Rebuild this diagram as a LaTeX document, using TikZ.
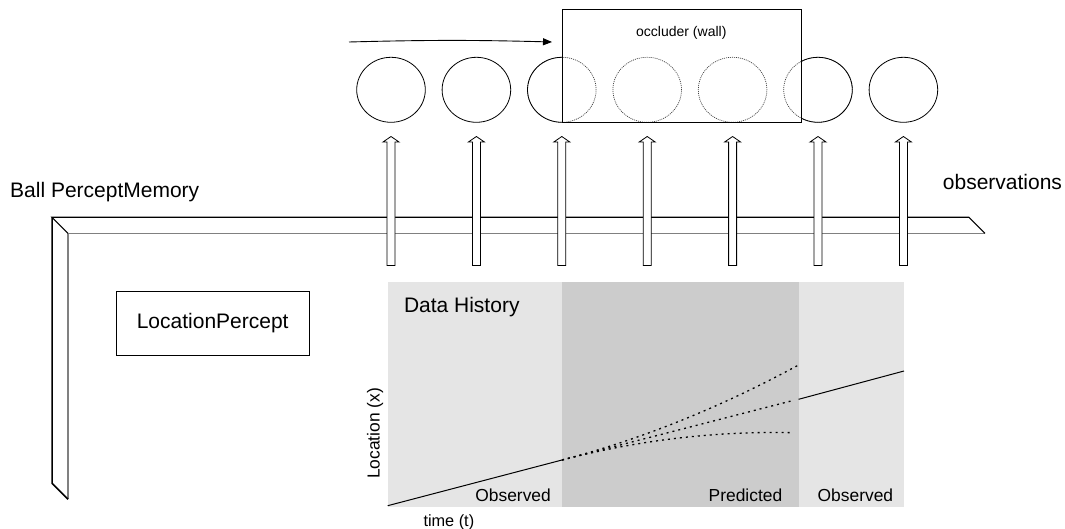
\documentclass[tikz,border=0pt]{standalone}
\usepackage{fontspec}
\setmainfont{Liberation Sans}
\usetikzlibrary{arrows.meta,shapes.geometric}

\definecolor{lightpanel}{HTML}{E5E5E5}
\definecolor{darkpanel}{HTML}{CCCCCC}
\definecolor{innerline}{HTML}{808080}

\tikzset{
  biglbl/.style={inner sep=0pt, anchor=base west, font=\fontsize{21}{25}\selectfont},
  midlbl/.style={inner sep=0pt, anchor=base west, font=\fontsize{17.4}{20}\selectfont},
  smalllbl/.style={inner sep=0pt, anchor=base west, font=\fontsize{14}{17}\selectfont},
  ball/.style={draw, ellipse, minimum width=68.6pt, minimum height=65pt, inner sep=0pt, line width=0.8pt},
  hiddenball/.style={ball, draw=black!75, dash pattern=on 1pt off 1pt, line width=0.7pt},
  blockarrow/.style={fill=white, draw, line width=0.8pt, line join=miter},
  predline/.style={dash pattern=on 2pt off 4pt, line width=1.3pt},
}

\begin{document}
\begin{tikzpicture}[x=1pt,y=-1pt]
\useasboundingbox (0,0) rectangle (1065,529);

% --- percept memory bar (L-shaped frame) ---
\fill[white] (52,217.3) -- (969,217.3) -- (985,233.3) -- (68,233.3) -- (68,499.3) -- (52,483.3) -- cycle;
\draw[innerline, line width=1.2pt] (68,499.3) -- (68,233.3) -- (985,233.3);
\draw[line width=1.1pt] (68,233.3) -- (52,217.3) -- (969,217.3) -- (985,233.3);
\draw[line width=1.5pt] (52,217.3) -- (52,483.3) -- (68,499.3);

\node[biglbl] (memlbl) at (10,197.3) {Ball PerceptMemory};
\node[biglbl] (obslbl) at (942.7,189.3) {observations};

% --- ball positions ---
\foreach \i/\x in {1/391,2/476.4,3/561.8,4/647.2,5/732.6,6/818,7/903.4}
  \coordinate (c\i) at (\x,89.8);

% --- observation arrows rising through the bar ---
\foreach \i in {1,...,7}{
  \draw[blockarrow] ([shift={(-4,265.5-89.8)}]c\i) -- ([shift={(-4,142-89.8)}]c\i)
     -- ([shift={(-8,142-89.8)}]c\i) -- ([shift={(0,136.5-89.8)}]c\i)
     -- ([shift={(8,142-89.8)}]c\i) -- ([shift={(4,142-89.8)}]c\i)
     -- ([shift={(4,265.5-89.8)}]c\i) -- cycle;
}

% --- balls: visible ones solid, occluded ones dotted ---
\node[ball] (b1) at (c1) {};
\node[ball] (b2) at (c2) {};
\node[ball] (b7) at (c7) {};
\node[hiddenball] (b3) at (c3) {};
\node[hiddenball] (b4) at (c4) {};
\node[hiddenball] (b5) at (c5) {};
\node[hiddenball] (b6) at (c6) {};
\begin{scope}
  \clip (300,0) rectangle (562.3,140);
  \draw[line width=0.8pt] (c3) ellipse [x radius=34.3pt, y radius=32.5pt];
\end{scope}
\begin{scope}
  \clip (801.7,0) rectangle (1000,140);
  \draw[line width=0.8pt] (c6) ellipse [x radius=34.3pt, y radius=32.5pt];
\end{scope}

% --- occluder ---
\coordinate (wallnw) at (562.3,9.3);
\coordinate (wallse) at (801.7,122.3);
\draw[line width=1pt] (wallnw) rectangle (wallse);
\node[smalllbl] (walllbl) at (636,36.7) {occluder (wall)};

% --- motion direction ---
\coordinate (mstart) at (349,42);
\coordinate (mend) at (552,42);
\draw[line width=0.9pt, -{Triangle[length=9pt,width=7pt]}] (mstart) to[bend left=1.5] (mend);

% --- location percept ---
\node[draw, line width=0.9pt, minimum width=193.3pt, minimum height=64pt, inner sep=0pt,
      font=\fontsize{21}{25}\selectfont] (lp) at (212.7,323) {LocationPercept};

% --- data history plot ---
\fill[lightpanel] (387.7,282.3) rectangle (904,506.7);
\fill[darkpanel] (562,282.3) rectangle (799,506.7);
\node[biglbl] (dh) at (403.8,312.7) {Data History};

\coordinate (p0) at (387.7,505.7);
\coordinate (p1) at (562,460);
\coordinate (q0) at (798.6,399.3);
\coordinate (q1) at (904,371);
\coordinate (up) at (798.6,365);
\coordinate (mid) at (793,400.5);
\coordinate (low) at (793,432.7);
\draw[line width=1pt] (p0) -- (p1);
\draw[predline] (p1) .. controls (640.7,439.5) and (719.3,407.9) .. (up);
\draw[predline] (p1) -- (mid);
\draw[predline] (p1) .. controls (639,440) and (716,430.9) .. (low);
\draw[line width=1pt] (q0) -- (q1);

\node[midlbl] (obs1) at (475.2,501.5) {Observed};
\node[midlbl] (pred) at (708.5,501.5) {Predicted};
\node[midlbl] (obs2) at (817.5,501.5) {Observed};
\node[midlbl, font=\fontsize{16.3}{19}\selectfont] (tlbl) at (423.3,526.5) {time (t)};
\node[midlbl, rotate=90] (xlbl) at (379.5,479) {Location (x)};
\end{tikzpicture}
\end{document}
